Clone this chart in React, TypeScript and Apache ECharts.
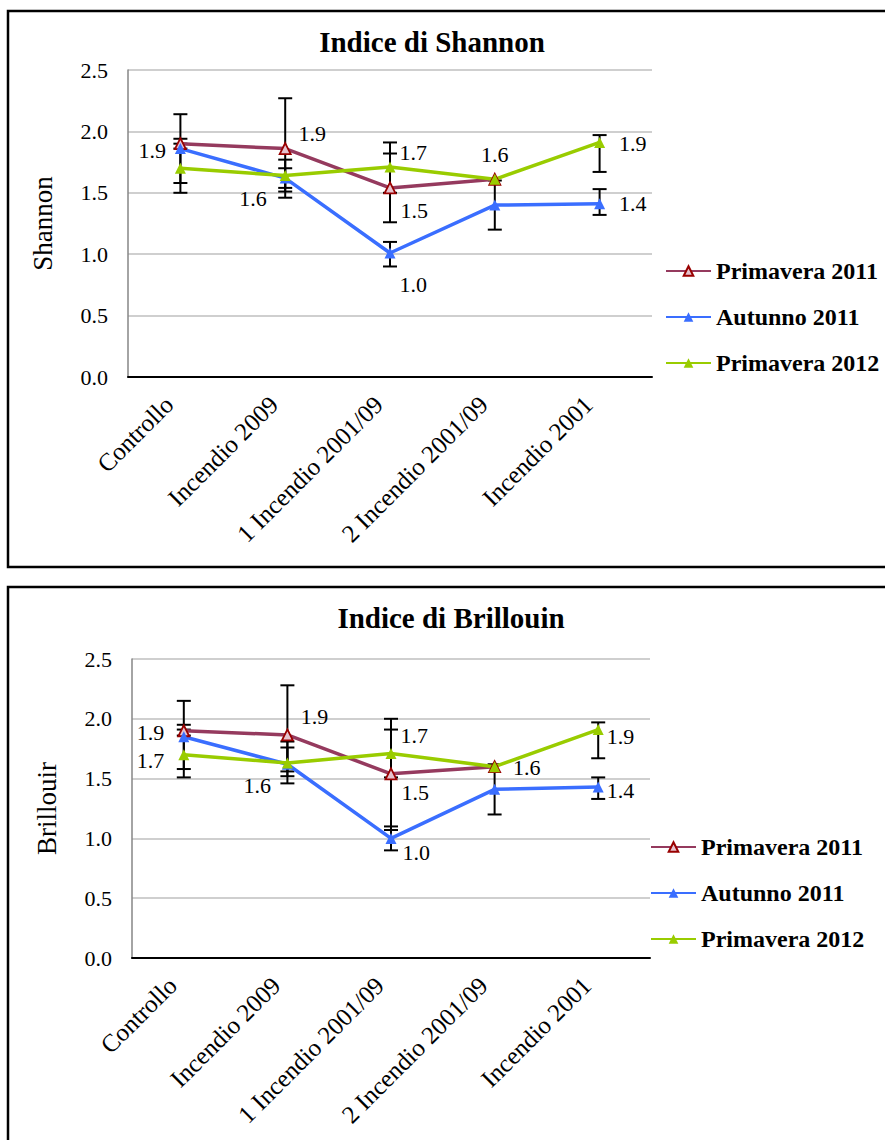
import React, { useEffect, useRef } from "react";
import * as echarts from "echarts";

const categories = ["Controllo", "Incendio 2009", "1 Incendio 2001/09", "2 Incendio 2001/09", "Incendio 2001"];
const seriesNames = ["Primavera 2011", "Autunno 2011", "Primavera 2012"];
const yTickValues = [0, 0.5, 1.0, 1.5, 2.0, 2.5];

// Indice di Shannon
const shannonP11 = [1.90, 1.86, 1.54, 1.61, null];
const shannonA11 = [1.86, 1.62, 1.01, 1.40, 1.41];
const shannonP12 = [1.70, 1.64, 1.71, 1.61, 1.91];
const shannonP11Low = [1.86, 1.46, 1.26, null, null];
const shannonP11High = [1.94, 2.27, 1.82, null, null];
const shannonA11Low = [1.58, 1.54, 0.90, 1.20, 1.32];
const shannonA11High = [2.14, 1.70, 1.10, 1.60, 1.53];
const shannonP12Low = [1.50, 1.51, 1.50, null, 1.67];
const shannonP12High = [1.90, 1.77, 1.91, null, 1.97];

// Indice di Brillouin
const brillouinP11 = [1.90, 1.865, 1.54, 1.60, null];
const brillouinA11 = [1.85, 1.62, 1.00, 1.41, 1.43];
const brillouinP12 = [1.70, 1.63, 1.71, 1.60, 1.91];
const brillouinP11Low = [1.86, 1.46, 1.07, null, null];
const brillouinP11High = [1.95, 2.28, 2.00, null, null];
const brillouinA11Low = [1.58, 1.56, 0.90, 1.20, 1.33];
const brillouinA11High = [2.15, 1.76, 1.10, 1.62, 1.51];
const brillouinP12Low = [1.51, 1.52, 1.51, null, 1.67];
const brillouinP12High = [1.91, 1.81, 1.91, null, 1.97];

// label placements (style only)
type Place = { pos: string; dist: number; off: [number, number] } | null;
const shannonPlaceP11: Place[] = [null, { pos: "right", dist: 7, off: [0, -15] }, { pos: "right", dist: 4, off: [0, 23] }, null, null];
const shannonPlaceA11: Place[] = [{ pos: "left", dist: 9, off: [0, 2] }, { pos: "left", dist: 13, off: [0, 20] }, { pos: "right", dist: 4, off: [0, 32] }, null, { pos: "right", dist: 14, off: [0, 0] }];
const shannonPlaceP12: Place[] = [null, null, { pos: "right", dist: 4, off: [0, -15] }, { pos: "top", dist: 8, off: [0, 0] }, { pos: "right", dist: 14, off: [0, 1] }];
const brillPlaceP11: Place[] = [null, { pos: "right", dist: 7, off: [0, -18] }, { pos: "right", dist: 4, off: [0, 19] }, null, null];
const brillPlaceA11: Place[] = [{ pos: "left", dist: 14, off: [0, -4] }, { pos: "left", dist: 11, off: [0, 21] }, { pos: "right", dist: 6, off: [0, 14] }, null, { pos: "right", dist: 3, off: [0, 4] }];
const brillPlaceP12: Place[] = [{ pos: "left", dist: 14, off: [0, 6] }, null, { pos: "right", dist: 4, off: [0, -18] }, { pos: "right", dist: 13, off: [0, 1] }, { pos: "right", dist: 3, off: [0, 7] }];

const FONT = "'Liberation Serif', 'Times New Roman', serif";
const lineColors = ["#953A5E", "#3A6EFF", "#99CC00"];
const markerFill = ["#E6C3CF", "#3A6EFF", "#99CC00"];
const markerBorder = ["#990000", "#3A6EFF", "#99CC00"];

function lineSeries(idx: number, gridIdx: number, values: (number | null)[], places: Place[]) {
  return {
    type: "line",
    name: seriesNames[idx],
    xAxisIndex: gridIdx,
    yAxisIndex: gridIdx,
    z: 3,
    symbol: "triangle",
    symbolSize: 11,
    showAllSymbol: true,
    connectNulls: false,
    lineStyle: { color: lineColors[idx], width: 3.5 },
    itemStyle: { color: markerFill[idx], borderColor: markerBorder[idx], borderWidth: idx === 0 ? 1.8 : 0 },
    label: {
      show: false,
      color: "#000",
      fontFamily: FONT,
      fontSize: 22,
      formatter: (p: any) => Number(p.value).toFixed(1),
    },
    emphasis: { disabled: true },
    data: values.map((v, i) => {
      const pl = places[i];
      if (v === null) return null;
      if (!pl) return v;
      return { value: v, label: { show: true, position: pl.pos, distance: pl.dist, offset: pl.off } };
    }),
  };
}

function errorSeries(gridIdx: number, low: (number | null)[], high: (number | null)[]) {
  const data: number[][] = [];
  low.forEach((lo, i) => {
    const hi = high[i];
    if (lo !== null && hi !== null) data.push([i, lo, hi]);
  });
  return {
    type: "custom",
    xAxisIndex: gridIdx,
    yAxisIndex: gridIdx,
    z: 2,
    silent: true,
    encode: { x: 0, y: [1, 2] },
    renderItem: (_params: any, api: any) => {
      const x = api.value(0);
      const pLo = api.coord([x, api.value(1)]);
      const pHi = api.coord([x, api.value(2)]);
      const half = 7;
      const style = { stroke: "#000", lineWidth: 2 };
      return {
        type: "group",
        children: [
          { type: "line", shape: { x1: pLo[0], y1: pLo[1], x2: pHi[0], y2: pHi[1] }, style },
          { type: "line", shape: { x1: pLo[0] - half, y1: pLo[1], x2: pLo[0] + half, y2: pLo[1] }, style },
          { type: "line", shape: { x1: pHi[0] - half, y1: pHi[1], x2: pHi[0] + half, y2: pHi[1] }, style },
        ],
      };
    },
    data,
  };
}

function xAxis(gridIdx: number) {
  return {
    type: "category",
    gridIndex: gridIdx,
    data: categories,
    boundaryGap: true,
    axisTick: { show: false },
    axisLine: { show: true, lineStyle: { color: "#000", width: 2 } },
    axisLabel: { rotate: 45, interval: 0, margin: 12, padding: [0, 16, 0, 0], color: "#000", fontFamily: FONT, fontSize: 25 },
    splitLine: { show: false },
    z: 4,
  };
}

function yAxis(gridIdx: number, name: string) {
  return {
    type: "value",
    gridIndex: gridIdx,
    min: yTickValues[0],
    max: yTickValues[yTickValues.length - 1],
    interval: 0.5,
    name,
    nameLocation: "middle",
    nameGap: 72,
    nameRotate: 90,
    nameTextStyle: { color: "#000", fontFamily: FONT, fontSize: 27 },
    axisLine: { show: true, lineStyle: { color: "#868686", width: 1.5 } },
    axisTick: { show: false },
    axisLabel: { color: "#000", fontFamily: FONT, fontSize: 22, margin: 20, formatter: (v: number) => v.toFixed(1) },
    splitLine: { show: true, lineStyle: { color: "#BFBFBF", width: 1.5 } },
  };
}

function legend(left: number, top: number) {
  return {
    orient: "vertical",
    left,
    top,
    padding: 0,
    itemWidth: 45,
    itemHeight: 12,
    itemGap: 22,
    data: seriesNames,
    selectedMode: false,
    textStyle: { color: "#000", fontFamily: FONT, fontSize: 24, fontWeight: "bold", lineHeight: 24 },
  };
}

export default function App() {
  const ref = useRef<HTMLDivElement>(null);
  useEffect(() => {
    if (!ref.current) return;
    const chart = echarts.init(ref.current, null, { renderer: "svg" });
    const option: any = {
      animation: false,
      backgroundColor: "#fff",
      graphic: [
        { type: "rect", shape: { x: 8, y: 11, width: 900, height: 556 }, style: { fill: "none", stroke: "#000", lineWidth: 2.5 }, z: 0 },
        { type: "rect", shape: { x: 8, y: 587, width: 900, height: 600 }, style: { fill: "none", stroke: "#000", lineWidth: 2.5 }, z: 0 },
        { type: "text", x: 432, y: 42, style: { text: "Indice di Shannon", fontFamily: FONT, fontSize: 29, fontWeight: "bold", fill: "#000", align: "center", verticalAlign: "middle" } },
        { type: "text", x: 451, y: 618, style: { text: "Indice di Brillouin", fontFamily: FONT, fontSize: 29, fontWeight: "bold", fill: "#000", align: "center", verticalAlign: "middle" } },
      ],
      grid: [
        { left: 128, top: 70, width: 524, height: 307 },
        { left: 132, top: 659, width: 518, height: 299 },
      ],
      legend: [legend(665, 259), legend(650, 835)],
      xAxis: [xAxis(0), xAxis(1)],
      yAxis: [yAxis(0, "Shannon"), yAxis(1, "Brillouir")],
      series: [
        errorSeries(0, shannonP11Low, shannonP11High),
        errorSeries(0, shannonA11Low, shannonA11High),
        errorSeries(0, shannonP12Low, shannonP12High),
        lineSeries(0, 0, shannonP11, shannonPlaceP11),
        lineSeries(1, 0, shannonA11, shannonPlaceA11),
        lineSeries(2, 0, shannonP12, shannonPlaceP12),
        errorSeries(1, brillouinP11Low, brillouinP11High),
        errorSeries(1, brillouinA11Low, brillouinA11High),
        errorSeries(1, brillouinP12Low, brillouinP12High),
        lineSeries(0, 1, brillouinP11, brillPlaceP11),
        lineSeries(1, 1, brillouinA11, brillPlaceA11),
        lineSeries(2, 1, brillouinP12, brillPlaceP12),
      ],
    };
    chart.setOption(option);
    return () => chart.dispose();
  }, []);
  return (
    <div style={{ position: "absolute", left: 0, top: 0, width: 885, height: 1140, background: "#fff" }}>
      <div ref={ref} style={{ width: 885, height: 1140 }} />
    </div>
  );
}
